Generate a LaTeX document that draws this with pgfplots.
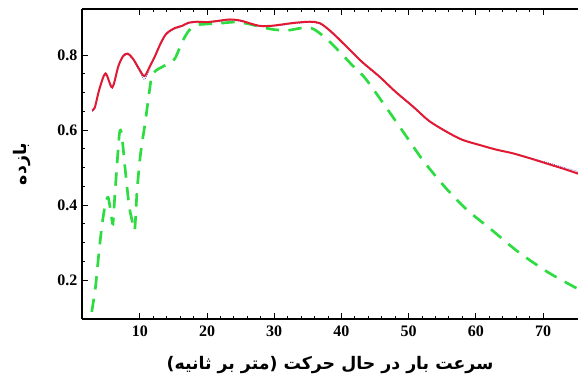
\documentclass[border=0pt]{standalone}
\usepackage{fontspec}
\setmainfont{Liberation Serif}
\newfontfamily\arabicfont[Script=Arabic]{DejaVu Sans}
\TeXXeTstate=1
\usepackage{pgfplots}
\pgfplotsset{compat=1.18}
\definecolor{redc}{RGB}{225,25,50}
\definecolor{greenc}{RGB}{45,220,65}
\definecolor{bluec}{RGB}{90,80,200}
\begin{document}
\begin{tikzpicture}
\useasboundingbox (0,0) rectangle (433.5pt,285.75pt);
\begin{axis}[
  at={(61.5pt,46.5pt)}, anchor=south west,
  scale only axis, width=372pt, height=232.5pt,
  xmin=1.4, xmax=75.2, ymin=0.096, ymax=0.923,
  axis x line*=box, axis y line*=left,
  axis line style={line width=0.9pt, -},
  tick align=inside,
  xtick={10,20,30,40,50,60,70}, minor x tick num=4,
  ytick={0.2,0.4,0.6,0.8}, minor y tick num=3,
  yticklabels={0.2,0.4,0.6,0.8},
  major tick length=4.5pt, minor tick length=2.6pt,
  every tick/.style={black, line width=0.7pt},
  tick label style={font=\fontsize{12}{14}\selectfont\bfseries},
  /pgf/number format/assume math mode=true,
  xticklabel style={yshift=-1.5pt},
  xlabel={\arabicfont\bfseries\fontsize{13}{15}\selectfont\beginR سرعت بار در حال حرکت (متر بر ثانیه)\endR},
  ylabel={\arabicfont\bfseries\fontsize{13}{15}\selectfont\beginR بازده\endR},
  xlabel style={at={(rel axis cs:0.5,-0.15)}, anchor=center},
  ylabel style={at={(rel axis cs:-0.121,0.5)}, anchor=center},
  clip=true,
]
\addplot[bluec, line width=0.6pt, densely dotted, smooth] coordinates {
(2.9,0.650)(3.3,0.657)(4.0,0.707)(4.9,0.748)(5.9,0.711)(6.8,0.767)(7.5,0.794)(8.2,0.801)(9.0,0.787)(10.0,0.755)(10.7,0.735)(11.5,0.765)(12.2,0.792)(13.2,0.832)(14,0.855)(15.2,0.869)(16.3,0.876)(17.2,0.884)(18.5,0.887)(20,0.886)(21.5,0.889)(23.4,0.893)(25,0.890)(26.5,0.882)(27.8,0.876)(29.5,0.876)(31.3,0.880)(33,0.884)(35.3,0.887)(36.8,0.883)(38.5,0.860)(40.8,0.820)(43,0.781)(45.7,0.740)(48,0.701)(50.7,0.660)(53,0.624)(55.7,0.594)(58,0.573)(60.6,0.559)(63,0.548)(65.5,0.538)(68,0.526)(70.5,0.514)(73,0.501)(75.5,0.488)
};
\addplot[greenc, line width=2pt, dash pattern=on 10pt off 7pt, smooth, tension=0.45] coordinates {
(2.85,0.115)(3.4,0.18)(3.9,0.27)(4.4,0.35)(4.9,0.405)(5.3,0.42)(5.7,0.38)(6.0,0.35)(6.3,0.43)(6.7,0.53)(7.0,0.595)(7.3,0.59)(7.8,0.50)(8.4,0.40)(8.9,0.355)(9.25,0.335)(9.6,0.44)(10.1,0.535)(10.8,0.62)(11.4,0.70)(11.8,0.745)(12.5,0.76)(14,0.775)(15.2,0.79)(16.3,0.835)(17.3,0.865)(18.5,0.88)(20,0.883)(22,0.885)(24,0.888)(26,0.884)(28,0.875)(30,0.868)(32,0.866)(34,0.872)(35.5,0.872)(36.5,0.862)(38,0.84)(39.5,0.813)(41.5,0.775)(43.5,0.739)(46.4,0.667)(49.2,0.595)(52.1,0.52)(55.4,0.448)(58.7,0.387)(62.4,0.333)(66.3,0.275)(70.7,0.221)(74.7,0.181)(75.5,0.175)
};
\addplot[redc, line width=1.5pt, smooth] coordinates {
(2.9,0.653)(3.3,0.66)(4.0,0.71)(4.9,0.751)(5.9,0.714)(6.8,0.77)(7.5,0.797)(8.2,0.804)(9.0,0.79)(10.0,0.76)(10.7,0.744)(11.5,0.77)(12.2,0.795)(13.2,0.835)(14,0.858)(15.2,0.872)(16.3,0.878)(17.2,0.886)(18.5,0.889)(20,0.888)(21.5,0.891)(23.4,0.895)(25,0.892)(26.5,0.884)(27.8,0.878)(29.5,0.878)(31.3,0.882)(33,0.886)(35.3,0.889)(36.8,0.885)(38.5,0.862)(40.8,0.822)(43,0.783)(45.7,0.742)(48,0.703)(50.7,0.662)(53,0.625)(55.7,0.595)(58,0.574)(60.6,0.56)(63,0.548)(65.5,0.538)(68,0.525)(70.5,0.511)(73,0.497)(75.5,0.482)
};
\end{axis}
\end{tikzpicture}
\end{document}
